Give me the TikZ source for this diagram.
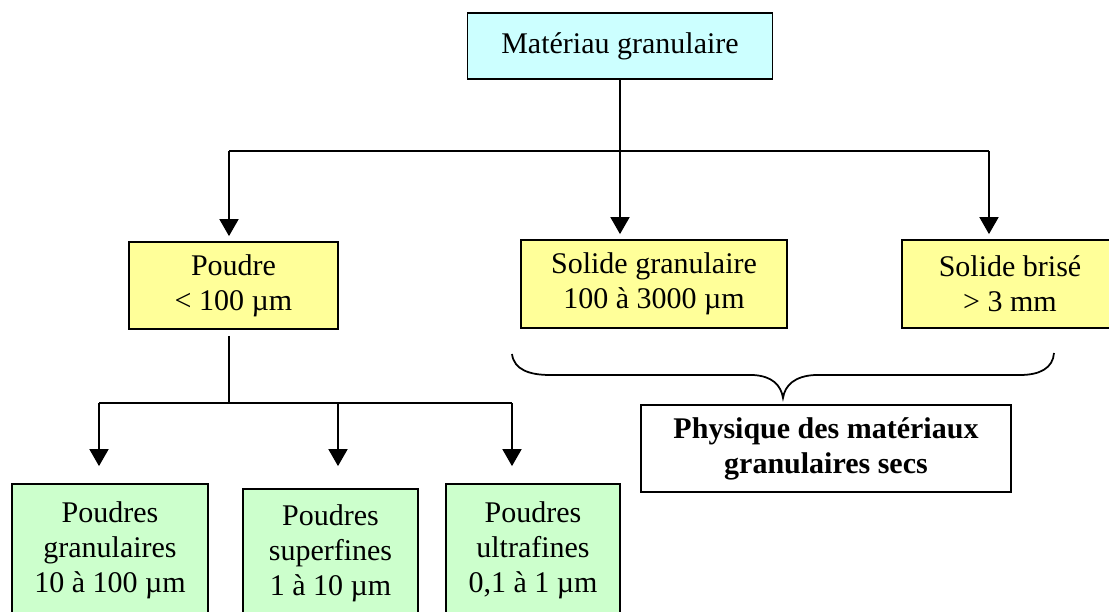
\documentclass[tikz,border=0pt]{standalone}
\usepackage{fontspec}
\setmainfont{Liberation Serif}
\usetikzlibrary{arrows.meta,positioning,calc}
\definecolor{topcol}{HTML}{CCFFFF}
\definecolor{midcol}{HTML}{FFFF99}
\definecolor{lowcol}{HTML}{CCFFCC}
\tikzset{
  boxnd/.style={draw=black, line width=0.7pt, align=center, inner sep=0pt,
    font=\fontsize{12}{14}\selectfont},
  linkln/.style={line width=0.7pt},
  arrln/.style={-{Triangle[length=6.8pt,width=7.6pt]}, line width=0.7pt},
}

\begin{document}
\begin{tikzpicture}[x=0.4pt,y=-0.4pt]
    \useasboundingbox (0,0) rectangle (1109,612);
    % ----- top level -----
    \node[boxnd, fill=topcol, minimum width=122pt, minimum height=26.4pt] (mat) at (620,46) {Matériau granulaire};
    % ----- middle level -----
    \node[boxnd, fill=midcol, minimum width=83.6pt, minimum height=34.8pt] (poudre) at (233.5,285.5) {Poudre\\< 100 µm};
    \node[boxnd, fill=midcol, minimum width=106.4pt, minimum height=35.2pt] (solgr) at (654,284) {Solide granulaire\\100 à 3000 µm};
    \node[boxnd, fill=midcol, minimum width=86.4pt, minimum height=35.2pt] (solbr) at (1010,284) {Solide brisé\\> 3 mm};
    % ----- bottom level -----
    \node[boxnd, fill=lowcol, minimum width=78.4pt, minimum height=52.8pt] (pgran) at (110,550) {Poudres\\granulaires\\10 à 100 µm};
    \node[boxnd, fill=lowcol, minimum width=70pt, minimum height=51.2pt] (psup) at (330.5,553) {Poudres\\superfines\\1 à 10 µm};
    \node[boxnd, fill=lowcol, minimum width=69.6pt, minimum height=52.8pt] (pult) at (533,550) {Poudres\\ultrafines\\0,1 à 1 µm};
    \node[boxnd, fill=white, minimum width=148pt, minimum height=34.8pt, font=\fontsize{12}{14}\selectfont\bfseries] (phys) at (826,448.5) {Physique des matériaux\\granulaires secs};
    % ----- connectors -----
    \coordinate (split) at (620,151);
    \coordinate (busL) at (229,151);
    \coordinate (busR) at (989,151);
    \draw[linkln] (mat.south) -- (split);
    \draw[linkln] (busL) -- (busR);
    \draw[arrln, shorten >=2pt] (busL) -- (busL |- poudre.north);
    \draw[arrln, shorten >=2pt] (split) -- (split |- solgr.north);
    \draw[arrln, shorten >=2pt] (busR) -- (busR |- solbr.north);
    \coordinate (sub) at (229,403);
    \coordinate (subL) at (99,403);
    \coordinate (subM) at (338,403);
    \coordinate (subR) at (512,403);
    \draw[linkln, shorten <=2.4pt] (busL |- poudre.south) -- (sub);
    \draw[linkln] (subL) -- (subR);
    \draw[arrln, shorten >=6.8pt] (subL) -- (subL |- pgran.north);
    \draw[arrln, shorten >=8.8pt] (subM) -- (subM |- psup.north);
    \draw[arrln, shorten >=6.8pt] (subR) -- (subR |- pult.north);
    % brace over the two solids
    \draw[linkln] (512,354) .. controls (514,370) and (530,375) .. (550,375) -- (753,375)
      .. controls (772,376) and (781,385) .. (783,398)
      .. controls (785,385) and (795,376) .. (815,375) -- (1020,375)
      .. controls (1040,375) and (1053,368) .. (1054,353);
\end{tikzpicture}
\end{document}
